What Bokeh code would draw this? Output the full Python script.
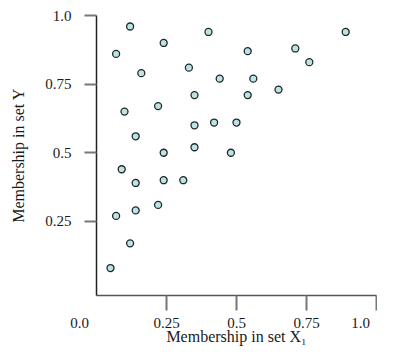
from bokeh.plotting import figure
from bokeh.models import Range1d, FixedTicker
from bokeh.embed import file_html
from bokeh.resources import INLINE

# data
x_vals = [0.12, 0.40, 0.24, 0.07, 0.16, 0.33, 0.44, 0.35, 0.22, 0.10, 0.35,
          0.42, 0.50, 0.14, 0.24, 0.35, 0.48, 0.89, 0.54, 0.71, 0.76, 0.56,
          0.65, 0.54, 0.09, 0.14, 0.24, 0.31, 0.07, 0.14, 0.22, 0.12, 0.05]
y_vals = [0.96, 0.94, 0.90, 0.86, 0.79, 0.81, 0.77, 0.71, 0.67, 0.65, 0.60,
          0.61, 0.61, 0.56, 0.50, 0.52, 0.50, 0.94, 0.87, 0.88, 0.83, 0.77,
          0.73, 0.71, 0.44, 0.39, 0.40, 0.40, 0.27, 0.29, 0.31, 0.17, 0.08]
x_label_ticks = [0.0, 0.25, 0.5, 0.75, 1.0]
x_tick_labels = ["0.0", "0.25", "0.5", "0.75", "1.0"]
x_mark_ticks = [0.25, 0.5, 0.75, 1.0]
y_ticks = [0.25, 0.5, 0.75, 1.0]
y_tick_labels = ["0.25", "0.5", "0.75", "1.0"]
x_title = "Membership in set X\u2081"
y_title = "Membership in set Y"

FONT = "Liberation Serif"
TXT = "#1a1a1a"
NB = "\u00a0"

p = figure(width=377, height=347, output_backend="svg", toolbar_location=None,
           x_range=Range1d(0, 1.0), y_range=Range1d(-0.02, 1.0),
           min_border_left=96, min_border_right=1, min_border_top=15,
           min_border_bottom=51)
p.grid.visible = False
p.outline_line_color = None
p.background_fill_color = "white"
p.border_fill_color = "white"

p.scatter(x_vals, y_vals, size=7, fill_color="#bfe2e2",
          line_color="#1e2a2a", line_width=1.3)

# labels: "0.0" sits left of the origin, "1.0" is pulled in from the edge
x_overrides = dict(zip(x_label_ticks, x_tick_labels))
x_overrides[x_label_ticks[0]] = x_tick_labels[0] + NB * 9
x_overrides[x_label_ticks[-1]] = x_tick_labels[-1] + NB * 2

xa = p.xaxis[0]
xa.ticker = FixedTicker(ticks=x_label_ticks, minor_ticks=x_mark_ticks)
xa.major_label_overrides = x_overrides
xa.axis_line_color = "#555555"
xa.axis_line_width = 1.5
xa.major_tick_line_color = None
xa.major_tick_out = 15
xa.major_tick_in = 0
xa.minor_tick_line_color = "#777777"
xa.minor_tick_line_width = 2
xa.minor_tick_out = 15
xa.minor_tick_in = 0
xa.major_label_standoff = 4
xa.major_label_text_font = FONT
xa.major_label_text_font_size = "15px"
xa.major_label_text_color = TXT
xa.axis_label = x_title
xa.axis_label_text_font = FONT
xa.axis_label_text_font_size = "16px"
xa.axis_label_text_font_style = "normal"
xa.axis_label_text_color = TXT
xa.axis_label_standoff = -6

ya = p.yaxis[0]
ya.ticker = FixedTicker(ticks=y_ticks)
ya.major_label_overrides = dict(zip(y_ticks, y_tick_labels))
ya.axis_line_color = "#222222"
ya.axis_line_width = 1.5
ya.major_tick_line_color = "#777777"
ya.major_tick_line_width = 2
ya.major_tick_out = 12
ya.major_tick_in = 0
ya.minor_tick_line_color = None
ya.major_label_standoff = 13
ya.major_label_text_font = FONT
ya.major_label_text_font_size = "15px"
ya.major_label_text_color = TXT
ya.axis_label = y_title
ya.axis_label_text_font = FONT
ya.axis_label_text_font_size = "16px"
ya.axis_label_text_font_style = "normal"
ya.axis_label_text_color = TXT
ya.axis_label_standoff = 15

open("out.html", "w").write(file_html(p, INLINE))
